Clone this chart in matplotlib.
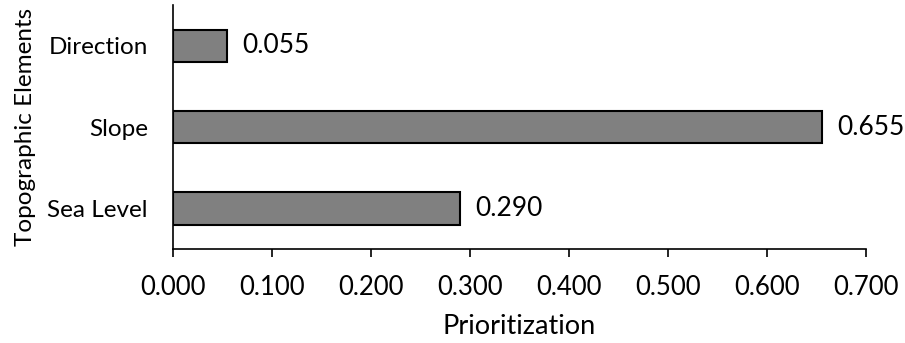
import matplotlib.pyplot as plt

plt.rcParams['font.family'] = ['Lato', 'DejaVu Sans']

categories = ['Sea Level', 'Slope', 'Direction']
values = [0.290, 0.655, 0.055]
xticks = [0.0, 0.1, 0.2, 0.3, 0.4, 0.5, 0.6, 0.7]

fig = plt.figure(figsize=(9.05, 3.43), dpi=100)
ax = fig.add_axes([0.191, 0.274, 0.766, 0.711])

pos = range(len(categories))
ax.barh(pos, values, height=0.4, color='#808080', edgecolor='black', linewidth=1.5)
for p, v in zip(pos, values):
    ax.annotate('%.3f' % v, (v, p), xytext=(11, 0), textcoords='offset points',
                va='center', ha='left', fontsize=19)

ax.set_xlim(0, 0.7)
ax.set_ylim(-0.5, 2.5)
ax.set_xticks(xticks)
ax.set_xticklabels(['%.3f' % t for t in xticks], fontsize=18.5)
ax.set_yticks(list(pos))
ax.set_yticklabels(categories, fontsize=17.5)
ax.tick_params(axis='x', length=6, width=1.2, pad=13)
ax.tick_params(axis='y', length=0, pad=18)

for s in ['top', 'right']:
    ax.spines[s].set_visible(False)
ax.spines['left'].set_linewidth(1.2)
ax.spines['bottom'].set_linewidth(1.2)

ax.set_xlabel('Prioritization', fontsize=19.5, labelpad=10)
ax.set_ylabel('Topographic Elements', fontsize=17.5)
ax.yaxis.set_label_coords(-0.197, 0.5)

fig.savefig('out.png', dpi=100)
